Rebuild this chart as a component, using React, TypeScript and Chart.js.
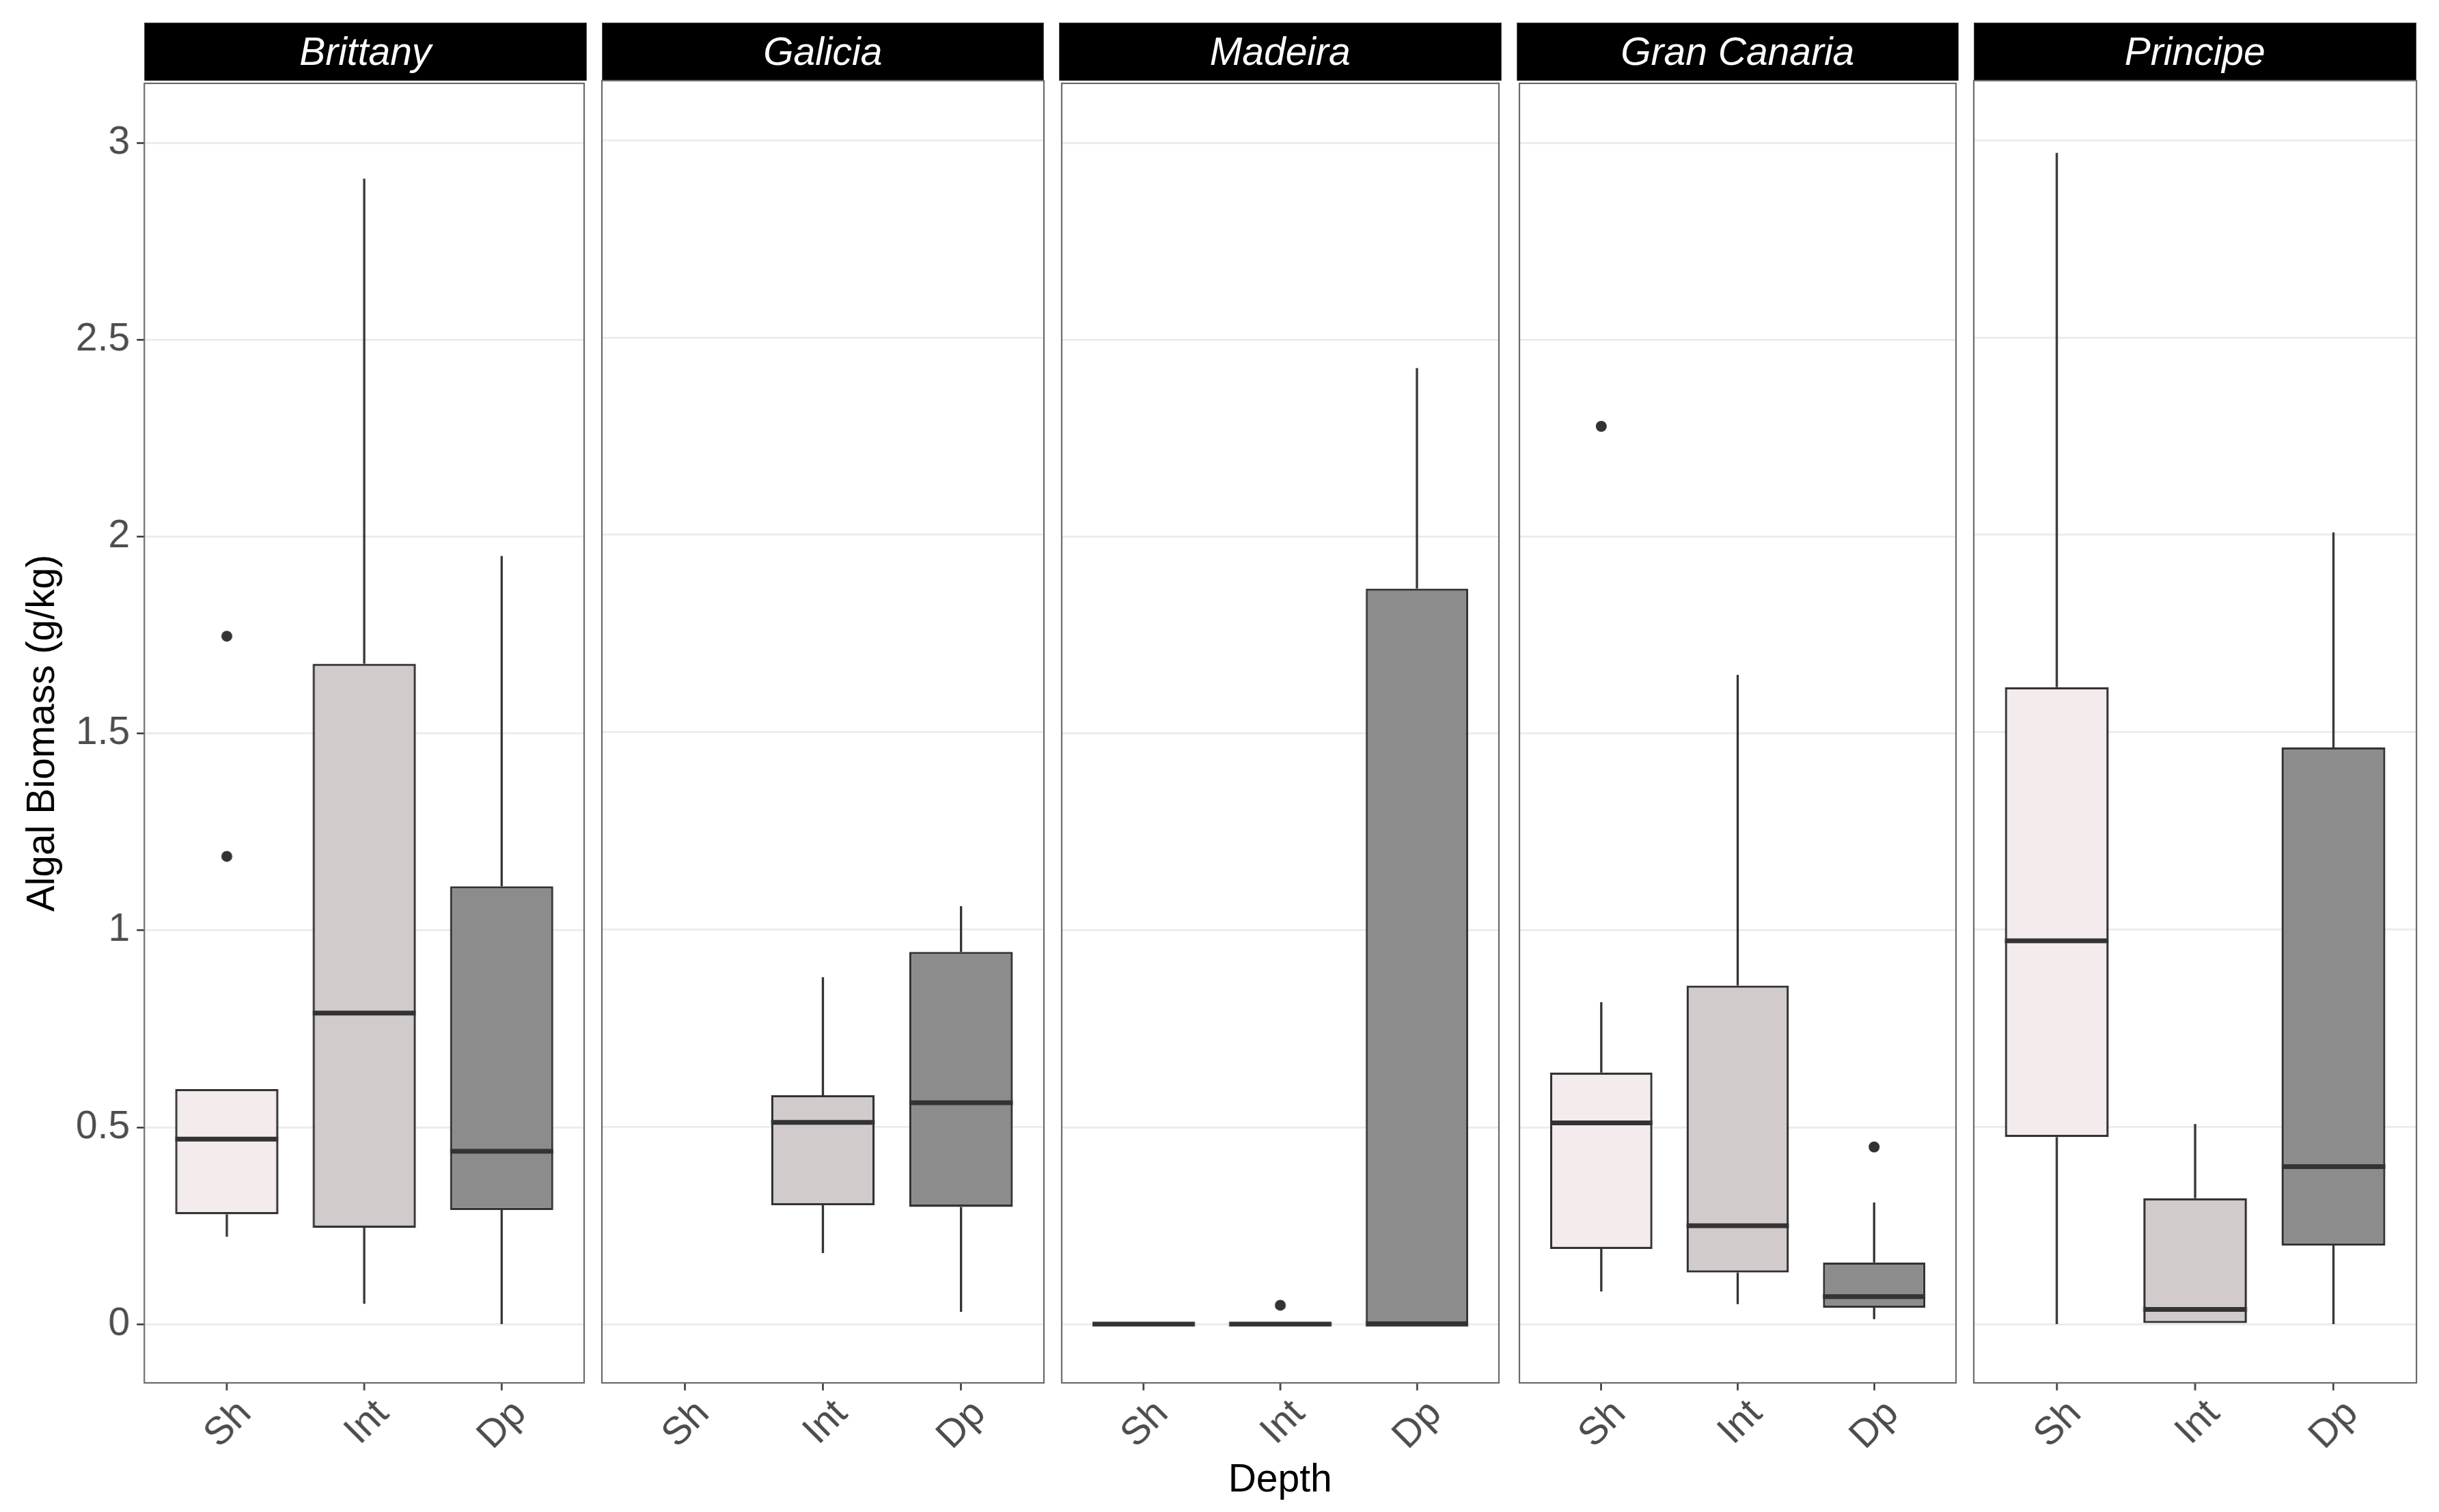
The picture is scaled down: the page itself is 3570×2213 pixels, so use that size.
import React, { useEffect, useRef } from 'react';
import { Chart, registerables } from 'chart.js';

Chart.register(...registerables);

const FONT = "'Liberation Sans', Arial, Helvetica, sans-serif";

// ---------- data ----------
const siteNames = ['Brittany', 'Galicia', 'Madeira', 'Gran Canaria', 'Principe'];
const depthLabels = ['Sh', 'Int', 'Dp'];
const depthFills = ['#F3EBEC', '#D1CBCB', '#8C8C8C'];
const yTickValues = [0, 0.5, 1, 1.5, 2, 2.5, 3];
const yLimits = [-0.149, 3.151];

// per depth (Sh, Int, Dp): [lower whisker, Q1, median, Q3, upper whisker]
const brittanyStats = [
  [0.222, 0.279, 0.47, 0.597, 0.597],
  [0.052, 0.245, 0.79, 1.677, 2.909],
  [0, 0.29, 0.439, 1.112, 1.951],
];
const galiciaStats = [
  null,
  [0.18, 0.301, 0.511, 0.58, 0.879],
  [0.031, 0.297, 0.561, 0.943, 1.059],
];
const madeiraStats = [
  [0, 0, 0, 0, 0],
  [0, 0, 0, 0, 0],
  [0, 0, 0, 1.868, 2.428],
];
const granCanariaStats = [
  [0.083, 0.191, 0.511, 0.639, 0.818],
  [0.051, 0.131, 0.25, 0.86, 1.649],
  [0.013, 0.042, 0.07, 0.157, 0.309],
];
const principeStats = [
  [0, 0.474, 0.971, 1.614, 2.968],
  [0, 0, 0.037, 0.319, 0.507],
  [0, 0.199, 0.399, 1.461, 2.006],
];

// outliers per depth (Sh, Int, Dp)
const brittanyOutliers = [[1.747, 1.188], [], []];
const galiciaOutliers = [[], [], []];
const madeiraOutliers = [[], [0.048], []];
const granCanariaOutliers = [[2.28], [], [0.45]];
const principeOutliers = [[], [], []];

const allStats = [brittanyStats, galiciaStats, madeiraStats, granCanariaStats, principeStats];
const allOutliers = [brittanyOutliers, galiciaOutliers, madeiraOutliers, granCanariaOutliers, principeOutliers];

// ---------- layout ----------
const W = 3570;
const H = 2213;
const PANEL_LEFT0 = 211;
const PANEL_W = 647.5;
const GAP = 22;
const STRIP_TOP = 33;
const PLOT_TOP = 118;
const PLOT_BOTTOM = 2024;
const Y_AXIS_W = 211;
const PAD = 4;
const X_AXIS_H = H - PLOT_BOTTOM;

const panelLeft = (i: number) => PANEL_LEFT0 + i * (PANEL_W + GAP);

function Panel({ index }: { index: number }) {
  const ref = useRef<HTMLCanvasElement>(null);
  const first = index === 0;
  const canvasLeft = first ? 0 : panelLeft(index) - PAD;
  const canvasW = first ? Y_AXIS_W + PANEL_W + PAD : PANEL_W + 2 * PAD;
  const canvasTop = PLOT_TOP - PAD;
  const canvasH = H - canvasTop;

  useEffect(() => {
    const stats = allStats[index];
    const outs = allOutliers[index];
    const boxData: any[] = [];
    const boxColors: string[] = [];
    stats.forEach((s, i) => {
      if (s) {
        boxData.push({ x: i + 1, y: [s[1], s[3]] });
        boxColors.push(depthFills[i]);
      }
    });
    const outData: any[] = [];
    outs.forEach((list, i) => list.forEach((v) => outData.push({ x: i + 1, y: v })));

    const whiskerPlugin = {
      id: 'boxWhiskers',
      afterDatasetsDraw(chart: any) {
        const xs = chart.scales.x;
        const ys = chart.scales.y;
        const ctx = chart.ctx;
        const half = (xs.getPixelForValue(2) - xs.getPixelForValue(1)) * 0.375;
        ctx.save();
        ctx.strokeStyle = '#333333';
        ctx.lineCap = 'butt';
        stats.forEach((s, i) => {
          if (!s) return;
          const x = xs.getPixelForValue(i + 1);
          const [lo, q1, med, q3, hi] = s;
          ctx.lineWidth = 3.3;
          ctx.beginPath();
          if (hi > q3) {
            ctx.moveTo(x, ys.getPixelForValue(q3));
            ctx.lineTo(x, ys.getPixelForValue(hi));
          }
          if (lo < q1) {
            ctx.moveTo(x, ys.getPixelForValue(q1));
            ctx.lineTo(x, ys.getPixelForValue(lo));
          }
          ctx.stroke();
          ctx.lineWidth = 7;
          ctx.beginPath();
          const ym = ys.getPixelForValue(med);
          ctx.moveTo(x - half, ym);
          ctx.lineTo(x + half, ym);
          ctx.stroke();
        });
        ctx.restore();
      },
    };

    const borderPlugin = {
      id: 'panelBorder',
      afterDraw(chart: any) {
        const { left, top, right, bottom } = chart.chartArea;
        const ctx = chart.ctx;
        ctx.save();
        ctx.strokeStyle = '#6b6b6b';
        ctx.lineWidth = 2.2;
        ctx.strokeRect(left, top, right - left, bottom - top);
        ctx.restore();
      },
    };

    const chart = new Chart(ref.current as HTMLCanvasElement, {
      type: 'bar',
      data: {
        datasets: [
          {
            type: 'bar',
            data: boxData,
            backgroundColor: boxColors,
            borderColor: '#333333',
            borderWidth: 3.3,
            borderSkipped: false,
            categoryPercentage: 1,
            barPercentage: 0.75,
            order: 2,
          } as any,
          {
            type: 'scatter',
            data: outData,
            pointRadius: 8,
            pointHoverRadius: 8,
            pointBackgroundColor: '#333333',
            pointBorderWidth: 0,
            order: 1,
          } as any,
        ],
      },
      options: {
        animation: false,
        responsive: false,
        devicePixelRatio: 1,
        events: [],
        layout: { padding: { top: PAD, right: PAD, left: first ? 0 : PAD, bottom: 0 } },
        plugins: { legend: { display: false }, tooltip: { enabled: false } },
        scales: {
          x: {
            type: 'linear',
            min: 0.4,
            max: 3.6,
            offset: false,
            afterBuildTicks: (s: any) => {
              s.ticks = depthLabels.map((_, i) => ({ value: i + 1 }));
            },
            afterFit: (s: any) => {
              s.height = X_AXIS_H;
              s.paddingLeft = 0;
              s.paddingRight = 0;
              s.paddingTop = 0;
              s.paddingBottom = 0;
            },
            grid: {
              offset: false,
              drawOnChartArea: false,
              drawTicks: true,
              tickLength: 11,
              tickColor: '#333333',
              tickWidth: 2.5,
            },
            border: { display: false },
            ticks: {
              autoSkip: false,
              minRotation: 45,
              maxRotation: 45,
              labelOffset: 27,
              padding: 1,
              color: '#4D4D4D',
              font: { family: FONT, size: 57 },
              callback: (v: any) => depthLabels[Math.round(Number(v)) - 1] ?? '',
            },
          },
          y: {
            type: 'linear',
            min: yLimits[0],
            max: yLimits[1],
            afterBuildTicks: (s: any) => {
              s.ticks = yTickValues.map((v) => ({ value: v }));
            },
            afterFit: (s: any) => {
              s.width = first ? Y_AXIS_W : 0;
              s.paddingLeft = 0;
              s.paddingRight = 0;
              s.paddingTop = 0;
              s.paddingBottom = 0;
            },
            grid: {
              color: '#EBEBEB',
              lineWidth: 2.8,
              drawTicks: first,
              tickLength: 11,
              tickColor: '#333333',
              tickWidth: 2.5,
            },
            border: { display: false },
            ticks: {
              display: first,
              padding: 10,
              color: '#4D4D4D',
              font: { family: FONT, size: 57 },
              callback: (v: any) => String(v),
            },
            title: {
              display: first,
              text: 'Algal Biomass (g/kg)',
              color: '#000000',
              font: { family: FONT, size: 57 },
              padding: { top: 29, bottom: 0 },
            },
          },
        },
      } as any,
      plugins: [whiskerPlugin, borderPlugin],
    });
    return () => chart.destroy();
  }, [index]);

  return (
    <canvas
      ref={ref}
      width={canvasW}
      height={canvasH}
      style={{
        position: 'absolute',
        left: canvasLeft,
        top: canvasTop,
        width: canvasW,
        height: canvasH,
        display: 'block',
      }}
    />
  );
}

export default function App() {
  return (
    <div
      style={{
        position: 'absolute',
        left: 0,
        top: 0,
        width: W,
        height: H,
        background: '#ffffff',
        overflow: 'hidden',
        fontFamily: FONT,
      }}
    >
      {siteNames.map((name, i) => (
        <div
          key={name}
          style={{
            position: 'absolute',
            left: panelLeft(i),
            top: STRIP_TOP,
            width: PANEL_W,
            height: PLOT_TOP - STRIP_TOP,
            boxSizing: 'border-box',
            border: '1.5px solid #555555',
            borderBottom: 'none',
            background: '#000000',
            color: '#ffffff',
            fontStyle: 'italic',
            fontSize: 57,
            lineHeight: `${PLOT_TOP - STRIP_TOP - 1.5}px`,
            textAlign: 'center',
            whiteSpace: 'nowrap',
          }}
        >
          {name}
        </div>
      ))}
      {siteNames.map((name, i) => (
        <Panel key={name + '-panel'} index={i} />
      ))}
      <div
        style={{
          position: 'absolute',
          left: PANEL_LEFT0,
          width: panelLeft(4) + PANEL_W - PANEL_LEFT0,
          top: 2133,
          height: 60,
          lineHeight: '60px',
          fontSize: 57,
          color: '#000000',
          textAlign: 'center',
        }}
      >
        Depth
      </div>
    </div>
  );
}
